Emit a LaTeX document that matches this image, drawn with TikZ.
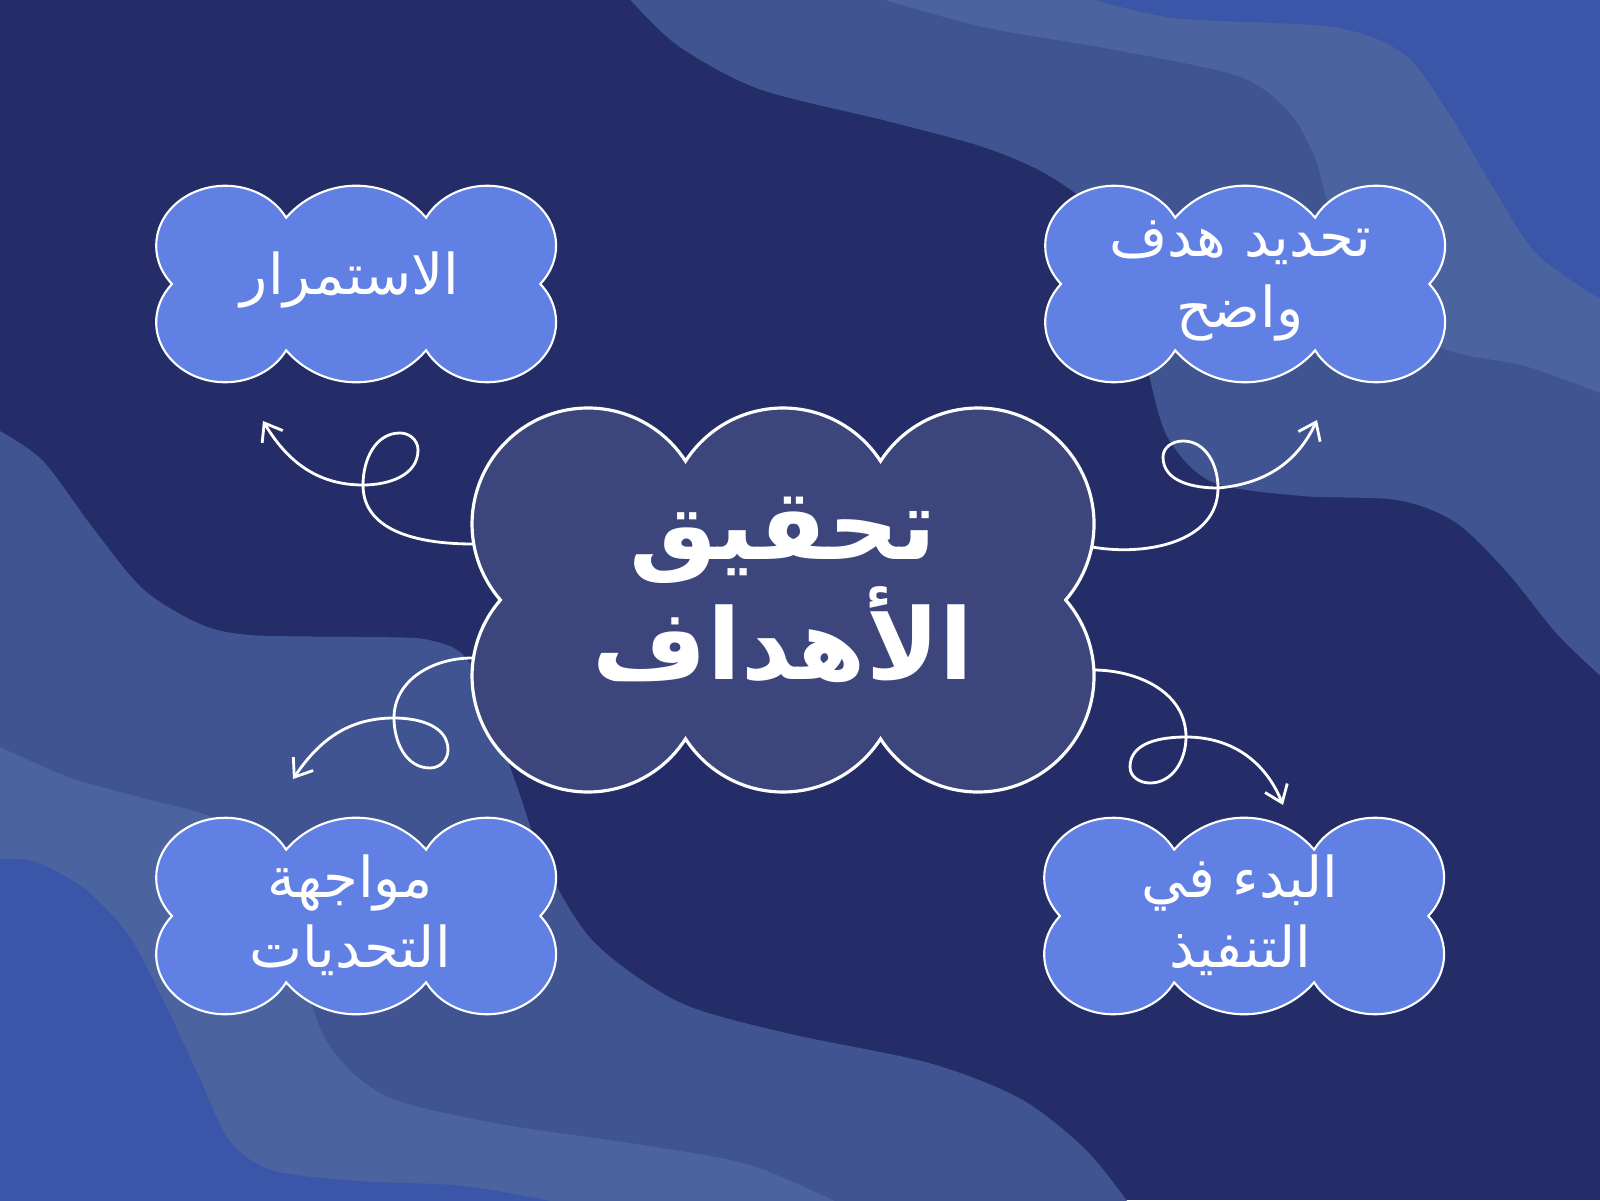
\documentclass[tikz,border=0pt]{standalone}
\usepackage{fontspec}
\newfontfamily\arabicfont[Script=Arabic]{DejaVu Sans}
\TeXXeTstate=1
\usetikzlibrary{arrows.meta}
\definecolor{bgnavy}{HTML}{242D68}
\definecolor{wavemid}{HTML}{3F5490}
\definecolor{wavelight}{HTML}{4B64A0}
\definecolor{wavebright}{HTML}{3B55A8}
\definecolor{goalfill}{HTML}{3C467C}
\definecolor{cloudfill}{HTML}{6180E4}
\tikzset{
  cloudline/.style={draw=white, fill=cloudfill, line width=0.6pt},
  goalline/.style={draw=white, fill=goalfill, line width=0.9pt},
  cloudtext/.style={text=white, align=center, inner sep=0pt,
    font=\arabicfont\fontsize{16}{20}\selectfont},
  goaltext/.style={text=white, align=center, inner sep=0pt,
    font=\arabicfont\bfseries\fontsize{28}{30}\selectfont},
  loopy/.style={draw=white, line width=0.8pt,
    -{Straight Barb[length=1.6mm,width=2.4mm]}},
  smallcloud/.pic={
    \draw[cloudline] (-1.84,0)
      arc[x radius=0.69, y radius=0.6, start angle=219.6, end angle=27.9]
      arc[radius=0.926, start angle=139.1, end angle=40.9]
      arc[x radius=0.69, y radius=0.6, start angle=152.1, end angle=-39.6]
      arc[x radius=0.69, y radius=0.6, start angle=39.6, end angle=-152.1]
      arc[radius=0.926, start angle=-40.9, end angle=-139.1]
      arc[x radius=0.69, y radius=0.6, start angle=-27.9, end angle=-219.6]
      -- cycle;
  },
  bigcloud/.pic={
    \draw[goalline] (-2.826,0)
      arc[radius=1.16, start angle=220.94, end angle=32.8]
      arc[radius=1.16, start angle=147.2, end angle=32.8]
      arc[radius=1.16, start angle=147.2, end angle=-40.94]
      arc[radius=1.16, start angle=40.94, end angle=-147.2]
      arc[radius=1.16, start angle=-32.8, end angle=-147.2]
      arc[radius=1.16, start angle=-32.8, end angle=-219.06]
      -- cycle;
  }
}
\begin{document}
\begin{tikzpicture}
  \useasboundingbox (0,0) rectangle (16,12);
  \fill[bgnavy] (0,0) rectangle (16,12);
  % waves
  \begin{scope}
    \clip (0,0) rectangle (16,12);
    \fill[wavemid] plot[smooth] coordinates {(0,7.69) (0.43,7.39) (0.93,6.72)
      (1.43,6.11) (2.0,5.76) (2.5,5.65) (3.57,5.63) (4.29,5.6) (4.71,5.35)
      (5.14,4.22) (5.43,3.41) (5.93,2.59) (6.79,1.98) (7.86,1.67) (9.29,1.37)
      (10.21,1.01) (10.86,0.5) (11.3,-0.05)} -- (0,-0.05) -- cycle;
    \fill[wavelight] plot[smooth] coordinates {(0,4.53) (0.71,4.22) (1.43,4.02)
      (2.14,3.82) (2.71,3.41) (3.14,1.88) (3.43,1.37) (3.93,1.01) (5.0,0.76)
      (6.43,0.55) (7.5,0.35) (8.43,-0.05)} -- (0,-0.05) -- cycle;
    \fill[wavebright] plot[smooth] coordinates {(0,3.41) (0.36,3.38) (0.86,3.1)
      (1.29,2.64) (1.64,1.98) (2.0,1.21) (2.29,0.6) (2.71,0.3) (3.57,0.19)
      (4.64,0.14) (5.71,-0.05)} -- (0,-0.05) -- cycle;
    \fill[wavemid] plot[smooth] coordinates {(6.26,12.05) (6.77,11.55)
      (7.59,11.11) (8.87,10.79) (9.83,10.53) (10.46,10.26) (10.97,9.86)
      (11.3,9.1) (11.48,8.29) (11.68,7.62) (12.12,7.18) (13.02,7.04)
      (13.97,7.0) (14.55,6.78) (15.06,6.29) (15.57,5.66) (16.05,5.2)}
      -- (16.05,12.05) -- cycle;
    \fill[wavelight] plot[smooth] coordinates {(8.68,12.05) (9.83,11.73)
      (11.1,11.51) (12.38,11.24) (12.89,10.88) (13.14,10.44) (13.27,9.99)
      (13.5,9.1) (14.42,8.52) (15.25,8.34) (16.05,8.05)} -- (16.05,12.05) -- cycle;
    \fill[wavebright] plot[smooth] coordinates {(10.78,12.05) (11.74,11.82)
      (13.33,11.73) (14.04,11.46) (14.48,10.88) (14.93,10.13) (15.37,9.46)
      (16.05,8.98)} -- (16.05,12.05) -- cycle;
  \end{scope}
  % connectors
  \coordinate (tlfrom) at (4.73,6.56);
  \coordinate (tlto) at (2.63,7.79);
  \coordinate (trfrom) at (10.92,6.53);
  \coordinate (trto) at (13.17,7.8);
  \coordinate (blfrom) at (4.72,5.42);
  \coordinate (blto) at (2.93,4.21);
  \coordinate (brfrom) at (10.93,5.3);
  \coordinate (brto) at (12.83,3.95);
  \draw[loopy] (tlfrom) to[out=180,in=-90] (3.63,7.15) to[out=90,in=180] (4.0,7.67)
    to[out=0,in=90] (4.18,7.5) to[out=-90,in=0] (3.63,7.15) to[out=180,in=-59] (tlto);
  \draw[loopy] (trfrom) to[out=-10,in=-90] (12.18,7.12) to[out=90,in=0] (11.83,7.59)
    to[out=180,in=90] (11.63,7.43) to[out=-90,in=180] (12.18,7.12) to[out=5,in=-115] (trto);
  \draw[loopy] (blfrom) to[out=180,in=90] (3.94,4.82) to[out=-90,in=180] (4.3,4.32)
    to[out=0,in=-90] (4.48,4.5) to[out=90,in=0] (3.94,4.82) to[out=180,in=56] (blto);
  \draw[loopy] (brfrom) to[out=0,in=90] (11.86,4.63) to[out=-90,in=0] (11.5,4.17)
    to[out=180,in=-90] (11.3,4.33) to[out=90,in=180] (11.86,4.63) to[out=0,in=112] (brto);
  % clouds
  \pic at (7.83,6) {bigcloud};
  \pic at (3.56,9.16) {smallcloud};
  \pic at (12.45,9.16) {smallcloud};
  \pic at (3.56,2.84) {smallcloud};
  \pic at (12.44,2.84) {smallcloud};
  \node[goaltext] (goal) at (7.83,6.1) {\beginR تحقيق\endR\\\beginR الأهداف\endR};
  \node[cloudtext] (keepgoing) at (3.5,9.2) {\beginR الاستمرار\endR};
  \node[cloudtext] (clear) at (12.4,9.19) {\beginR تحديد هدف\endR\\\beginR واضح\endR};
  \node[cloudtext] (challenge) at (3.5,2.85) {\beginR مواجهة\endR\\\beginR التحديات\endR};
  \node[cloudtext] (execute) at (12.4,2.85) {\beginR البدء في\endR\\\beginR التنفيذ\endR};
\end{tikzpicture}
\end{document}
